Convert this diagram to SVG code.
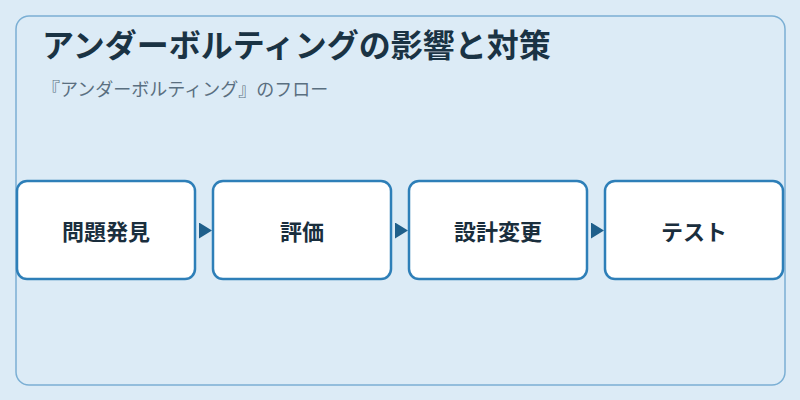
<svg xmlns="http://www.w3.org/2000/svg" width="800" height="400" viewBox="0 0 800 400">
<style>
.node rect{fill:#ffffff;stroke:#2e7fb8;stroke-width:2.5}
.node text{font-family:"Noto Sans CJK JP","Noto Sans",sans-serif;font-size:22px;font-weight:bold;fill:#1a2e3d;text-anchor:middle;dominant-baseline:central}
.conn path{fill:none;stroke:none}
.title{font-family:"Noto Sans CJK JP","Noto Sans",sans-serif;font-size:32px;font-weight:bold;fill:#1a3344}
.sub{font-family:"Noto Sans CJK JP","Noto Sans",sans-serif;font-size:18px;fill:#5a6f80}
</style>
<defs>
<marker id="arr" markerWidth="13" markerHeight="16" refX="13" refY="8" orient="auto" markerUnits="userSpaceOnUse">
<path d="M0,0 L13,8 L0,16 Z" fill="#1f5f8b"/>
</marker>
</defs>
<rect x="0" y="0" width="800" height="400" fill="#dcebf6"/>
<rect x="16" y="16" width="769" height="369" rx="13" fill="#dcebf6" stroke="#7bafd4" stroke-width="1.5"/>
<text class="title" x="42" y="57">アンダーボルティングの影響と対策</text>
<text class="sub" x="42" y="96">『アンダーボルティング』のフロー</text>
<g class="conn">
<path d="M196,230.5 L212,230.5" marker-end="url(#arr)"/>
<path d="M392,230.5 L408,230.5" marker-end="url(#arr)"/>
<path d="M588,230.5 L604,230.5" marker-end="url(#arr)"/>
</g>
<g id="n1" class="node"><rect x="17" y="181" width="178" height="98" rx="10"/><text x="106" y="230">問題発見</text></g>
<g id="n2" class="node"><rect x="213" y="181" width="178" height="98" rx="10"/><text x="302" y="230">評価</text></g>
<g id="n3" class="node"><rect x="409" y="181" width="178" height="98" rx="10"/><text x="498" y="230">設計変更</text></g>
<g id="n4" class="node"><rect x="605" y="181" width="178" height="98" rx="10"/><text x="694" y="230">テスト</text></g>
</svg>
